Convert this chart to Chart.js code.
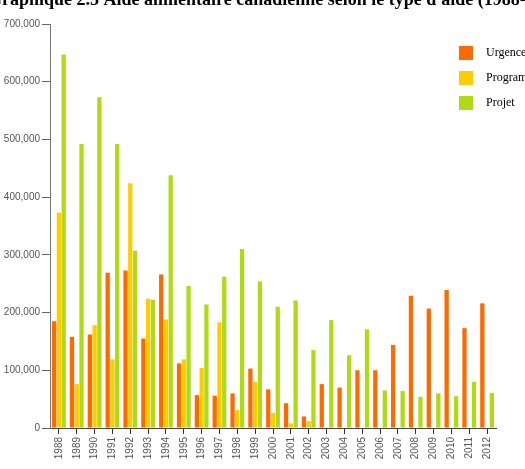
<!DOCTYPE html>
<html>
<head>
<meta charset="utf-8">
<script src="https://cdn.jsdelivr.net/npm/chart.js@4"></script>
<style>
html,body{margin:0;padding:0;background:#fff;overflow:hidden;}
canvas{display:block;}
</style>
</head>
<body>
<canvas id="c" width="525" height="469"></canvas>
<script>
const titleText = "Graphique 2.3 Aide alimentaire canadienne selon le type d'aide (1988-2012)";
const years = ["1988","1989","1990","1991","1992","1993","1994","1995","1996","1997","1998","1999","2000","2001","2002","2003","2004","2005","2006","2007","2008","2009","2010","2011","2012"];
const urgence = [185000,158000,162000,269000,273000,155000,266000,112000,57000,56000,60000,103000,67000,43000,20000,76000,70000,100000,100000,144000,229000,207000,239000,173000,216000];
const programme = [373000,76000,178000,119000,424000,224000,188000,119000,104000,183000,31000,80000,26000,8000,12000,0,0,0,0,0,0,0,0,0,0];
const projet = [647000,492000,573000,492000,307000,222000,438000,246000,214000,262000,310000,254000,210000,221000,135000,187000,126000,171000,65000,64000,54000,60000,55000,80000,61000];
const seriesNames = ["Urgence","Programme","Projet"];
const seriesColors = ["#FF6A00","#FFCC00","#AEDB14"];
const yTicks = [0,100000,200000,300000,400000,500000,600000,700000];

const overlay = {
  id: 'overlay',
  afterDraw(chart) {
    const ctx = chart.ctx;
    ctx.save();
    // title (top clipped like the reference)
    ctx.fillStyle = '#000';
    ctx.font = 'bold 18px "Liberation Serif", "DejaVu Serif", serif';
    ctx.textBaseline = 'alphabetic';
    ctx.textAlign = 'left';
    ctx.fillText(titleText, -12, 5);
    // legend
    ctx.font = '12px "Liberation Serif", serif';
    ctx.textBaseline = 'middle';
    chart.data.datasets.forEach((ds, i) => {
      const y = 46 + i * 25;
      ctx.fillStyle = ds.backgroundColor;
      ctx.fillRect(459, y, 14, 14);
      ctx.fillStyle = '#000';
      ctx.fillText(ds.label, 486, y + 7);
    });
    ctx.restore();
  }
};

new Chart(document.getElementById('c'), {
  type: 'bar',
  data: {
    labels: years,
    datasets: [
      {label: seriesNames[0], data: urgence, backgroundColor: seriesColors[0]},
      {label: seriesNames[1], data: programme, backgroundColor: seriesColors[1]},
      {label: seriesNames[2], data: projet, backgroundColor: seriesColors[2]}
    ]
  },
  options: {
    responsive: false,
    animation: false,
    devicePixelRatio: 1,
    layout: {padding: {top: 24, right: 29, left: 0, bottom: 0}},
    datasets: {bar: {categoryPercentage: 0.8, barPercentage: 0.9}},
    plugins: {legend: {display: false}, title: {display: false}, tooltip: {enabled: false}},
    scales: {
      x: {
        grid: {display: true, drawOnChartArea: false, drawTicks: true, tickLength: 6, color: '#333', offset: false},
        border: {display: true, color: '#444', width: 1},
        ticks: {
          minRotation: 90, maxRotation: 90, autoSkip: false, padding: 3,
          color: '#555', font: {family: '"Liberation Sans", Arial, sans-serif', size: 10}
        },
        afterFit(s) { s.height = 41; }
      },
      y: {
        min: 0, max: 700000,
        afterBuildTicks(s) { s.ticks = yTicks.map(v => ({value: v})); },
        grid: {display: true, drawOnChartArea: false, drawTicks: true, tickLength: 8, color: '#666'},
        border: {display: true, color: '#777', width: 1},
        ticks: {
          padding: 2, color: '#555',
          font: {family: '"Liberation Sans", Arial, sans-serif', size: 10},
          callback: v => v.toLocaleString('en-US')
        },
        afterFit(s) { s.width = 50; }
      }
    }
  },
  plugins: [overlay]
});
</script>
</body>
</html>
